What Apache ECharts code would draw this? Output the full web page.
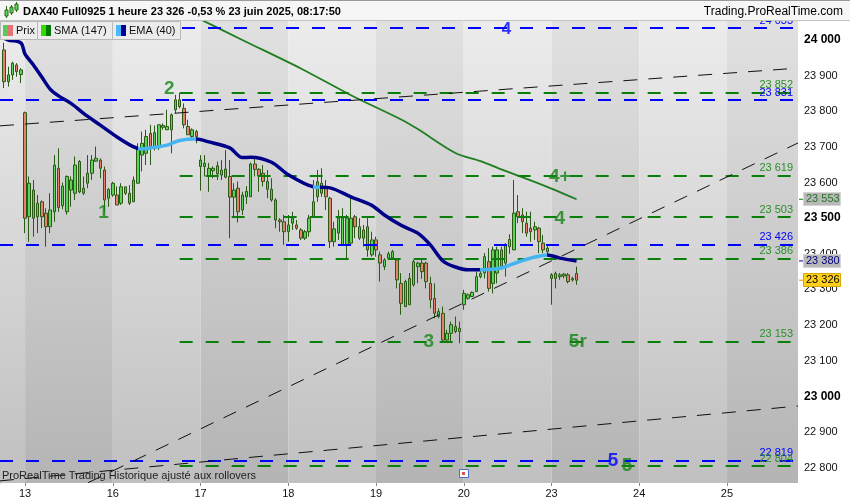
<!DOCTYPE html>
<html><head><meta charset="utf-8">
<script src="https://cdn.jsdelivr.net/npm/echarts@6/dist/echarts.min.js"></script>
<style>html,body{margin:0;padding:0;background:#fff}#c{width:850px;height:500px}</style>
</head><body><div id="c"></div>
<script>
const FONT = "'Liberation Sans', Arial, sans-serif";

// ---------- DATA ----------
const days = ['12','13','16','17','18','19','20','23','24','25'];
const hoursPerDay = 21;      // hourly bars per session
const firstHour = 16;        // first slot shown (12 June, 16h)
const slotCount = 192;       // slots on the axis (incl. future)

// hourly bars [open, close, low, high], from 12 June 16h
const ohlc = [
 ['-','-','-','-'],
 [23972,23883,23865,23992],[23883,23902,23869,23925],[23902,23935,23888,23939],[23930,23911,23897,23935],[23903,23916,23879,23921],
 [23796,23500,23458,23799],[23504,23598,23434,23617],[23579,23500,23448,23607],[23504,23542,23458,23565],[23546,23504,23472,23550],
 [23514,23476,23420,23528],[23476,23523,23458,23570],[23518,23649,23490,23677],[23640,23530,23518,23696],[23535,23590,23525,23600],
 [23518,23617,23510,23620],[23579,23607,23532,23617],[23570,23649,23551,23673],[23659,23574,23570,23663],[23570,23584,23565,23617],
 [23598,23626,23584,23677],[23626,23663,23607,23677],[23660,23668,23658,23701],[23663,23640,23612,23668],[23635,23551,23518,23645],
 [23556,23581,23532,23584],
 [23565,23598,23560,23602],[23565,23537,23537,23589],[23542,23588,23537,23598],[23588,23570,23565,23588],[23570,23542,23537,23593],
 [23546,23607,23546,23617],[23598,23696,23598,23710],[23677,23710,23631,23743],[23682,23729,23649,23748],[23738,23701,23649,23762],
 [23701,23740,23690,23760],[23701,23762,23691,23762],[23755,23760,23748,23766],[23748,23757,23748,23804],[23748,23790,23682,23794],
 [23804,23832,23794,23846],[23832,23813,23808,23851],[23808,23762,23752,23822],[23757,23734,23734,23776],[23729,23748,23724,23752],
 [23743,23729,23710,23748],
 [23645,23663,23577,23677],[23645,23654,23617,23677],[23617,23640,23574,23655],[23633,23640,23612,23645],[23647,23624,23607,23659],
 [23621,23635,23607,23663],[23638,23615,23612,23691],[23617,23559,23444,23663],[23559,23579,23500,23598],[23584,23518,23488,23603],
 [23523,23565,23509,23574],[23560,23575,23540,23590],[23560,23652,23560,23656],[23652,23637,23617,23672],[23637,23619,23574,23640],
 [23626,23603,23589,23649],[23603,23581,23556,23635],[23581,23551,23546,23612],[23551,23495,23472,23556],[23495,23490,23462,23500],
 [23490,23462,23425,23509],
 [23462,23481,23434,23509],[23486,23500,23467,23518],[23481,23472,23467,23495],[23467,23444,23439,23472],[23444,23462,23439,23467],
 [23462,23500,23448,23509],[23504,23546,23504,23607],[23560,23602,23546,23635],[23570,23598,23560,23640],[23584,23560,23523,23607],
 [23556,23434,23416,23560],[23434,23470,23420,23490],[23458,23500,23439,23523],[23425,23500,23425,23528],[23425,23500,23383,23509],
 [23430,23500,23425,23560],[23504,23476,23444,23509],[23476,23444,23439,23500],[23444,23467,23420,23481],[23476,23411,23392,23500],
 [23397,23439,23392,23462],
 [23439,23411,23392,23448],[23397,23374,23322,23406],[23364,23383,23355,23388],[23388,23400,23387,23406],[23388,23406,23383,23411],
 [23383,23327,23303,23388],[23317,23261,23229,23346],[23252,23322,23252,23327],[23257,23331,23257,23346],[23313,23378,23308,23383],
 [23364,23374,23317,23378],[23374,23350,23330,23385],[23374,23322,23303,23378],[23317,23271,23247,23336],[23275,23233,23219,23317],
 [23224,23238,23219,23247],[23233,23158,23154,23252],[23158,23177,23154,23187],[23177,23201,23154,23210],[23196,23182,23177,23224],
 [23182,23191,23149,23210],
 [23257,23289,23243,23299],[23275,23285,23271,23289],[23280,23292,23280,23294],[23294,23336,23294,23350],[23336,23345,23331,23355],
 [23346,23392,23331,23402],[23378,23303,23294,23416],[23317,23411,23289,23420],[23346,23411,23317,23420],[23411,23364,23355,23420],
 [23374,23425,23336,23430],[23420,23440,23400,23455],[23411,23514,23411,23607],[23518,23504,23486,23565],[23509,23490,23458,23528],
 [23486,23458,23448,23518],[23472,23462,23434,23518],[23467,23476,23439,23490],[23472,23434,23402,23476],[23430,23411,23402,23453],
 [23416,23406,23402,23425],
 [23331,23341,23257,23346],[23331,23345,23303,23350],[23336,23341,23327,23346],[23338,23343,23331,23346],[23341,23322,23317,23346],
 [23327,23331,23322,23336],[23345,23326,23313,23364]
];

// EMA(40) and SMA(147): [slot, value]
const emaPoints = [[0,24010],[2,24000],[5,23992],[6,23960],[8,23930],[10,23896],[12,23862],[14,23843],[17,23822],[20,23794],
 [24,23761],[28,23728],[32,23700],[34,23694],[36,23697],[40,23705],[43,23718],[47,23722],[50,23714],[55,23697],[58,23670],
 [60,23671],[65,23657],[69,23622],[75,23588],[79,23585],[84,23560],[89,23536],[92,23509],[96,23480],[100,23458],[103,23425],
 [106,23380],[109,23363],[112,23355],[116,23355],[120,23360],[124,23377],[128,23391],[131,23397],[134,23388],[138,23380]];
const emaAbove = [[33,47],[75,76.5],[115,131]];   // stretches where price is above the EMA
const smaPoints = [[45,24075],[58,24000],[72,23920],[84,23845],[96,23777],[100,23750],[109,23683],[115,23660],
 [120,23637],[127,23606],[132,23583],[138,23553]];

const blueLevels = [24033, 23831, 23426, 22819];
const greenLevels = [23852, 23619, 23503, 23386, 23153, 22804];
const greenLevelStart = 43;
const trendLines = [
 [[0,23759],[191,23921]],
 [[21.1,22758],[191,23711]],
 [[0,22763],[191,22973]]
];
const waveText  = ['1','2','3','4+','4','5r','4','5','5'];
const waveSlot  = [24.8, 40.5, 102.6, 134.0, 134.0, 138.3, 121.2, 146.7, 150.1];
const wavePrice = [23516, 23863, 23153, 23617, 23499, 23153, 24031, 22819, 22805];
const waveBlue  = [false,false,false,false,false,false,true,true,false];

const yTicks = [22800,22900,23000,23100,23200,23300,23400,23500,23600,23700,23800,23900,24000];
const yMin = 22757, yMax = 24056;
const lastPrice = 23326, lastSma = 23553, lastEma = 23380;

// ---------- BUILD ----------
const allCats = [];
for (const d of days) for (let h = 1; h <= hoursPerDay; h++) allCats.push(d + ' ' + h + 'h');
const categories = allCats.slice(firstHour - 1, firstHour - 1 + slotCount);
const isDayStart = (i, v) => /\s1h$/.test(v);
const fmt = v => { const s = String(Math.round(v)); return s.slice(0, -3) + ' ' + s.slice(-3); };

const GREEN = '#0a800a', BLUE = '#0000ff', GLABEL = '#2a8f2a';
const grad = (a, b) => ({type:'linear', x:0, y:0, x2:0, y2:1, colorStops:[{offset:0,color:a},{offset:1,color:b}]});

// day bands
const starts = [0];
categories.forEach((c, i) => { if (isDayStart(i, c)) starts.push(i); });
const bands = starts.map((s, k) => {
  const e = k + 1 < starts.length ? starts[k + 1] : slotCount - 1;
  const light = k % 2 === 0;
  return [{xAxis: s, itemStyle: {color: light ? grad('#ececec', '#c0c0c0') : grad('#e1e1e1', '#b4b4b4')}}, {xAxis: e}];
});

const levelLines = [];
blueLevels.forEach(v => levelLines.push([
  {coord:[0, v], lineStyle:{color:BLUE, width:2, type:[13,13]},
   label:{show:true, position:'insideEndTop', formatter: fmt(v), color:BLUE, fontSize:11, distance:2, fontFamily:FONT}},
  {coord:[190.3, v]}]));
greenLevels.forEach(v => levelLines.push([
  {coord:[greenLevelStart, v], lineStyle:{color:GREEN, width:2, type:[13,13]},
   label:{show:true, position:'insideEndTop', formatter: fmt(v), color:GLABEL, fontSize:11, distance:2, fontFamily:FONT}},
  {coord:[190.3, v]}]));
trendLines.forEach(t => levelLines.push([
  {coord:t[0], lineStyle:{color:'#111', width:1, type:[14,11]}, label:{show:false}},
  {coord:t[1]}]));

const waveData = waveText.map((t, i) => ({
  value: [waveSlot[i], wavePrice[i]],
  label: {formatter: t, color: waveBlue[i] ? BLUE : '#148414', fontSize: (t === '4' && waveBlue[i]) ? 17 : 19}
}));

const chart = echarts.init(document.getElementById('c'));
const option = {
  animation: false,
  textStyle: {fontFamily: FONT},
  grid: {left: 0, right: 52, top: 20, bottom: 17},
  xAxis: [
    {type:'category', data: categories, boundaryGap:false,
     axisLine:{show:false},
     axisTick:{show:true, interval:isDayStart, length:3, lineStyle:{color:'#888'}},
     axisLabel:{interval:isDayStart, formatter: v => v.split(' ')[0], color:'#111', fontSize:11, margin:5, fontFamily:FONT},
     splitLine:{show:false}},
    {type:'value', min:0, max:slotCount - 1, show:false}
  ],
  yAxis: {type:'value', position:'right', min:yMin, max:yMax,
    axisLine:{show:true, lineStyle:{color:'#999'}},
    axisTick:{show:true, customValues:yTicks, length:4, lineStyle:{color:'#999'}},
    axisLabel:{customValues:yTicks, margin:6, color:'#111', fontSize:11, fontFamily:FONT,
      formatter: v => v % 500 === 0 ? '{b|' + fmt(v) + '}' : fmt(v),
      rich:{b:{fontWeight:'bold', fontSize:12, color:'#000', fontFamily:FONT}}},
    splitLine:{show:false}},
  visualMap: [{type:'piecewise', show:false, seriesIndex:4, dimension:0,
    pieces: emaAbove.map(r => ({gte:r[0], lte:r[1], color:'#45b4f2'})),
    outOfRange:{color:'#000088'}}],
  series: [
    {type:'line', xAxisIndex:1, data:[], z:0, silent:true,
     markArea:{silent:true, data:bands}},
    {type:'candlestick', xAxisIndex:0, data:ohlc, barWidth:3, z:2,
     itemStyle:{color:'#5ad55a', color0:'#e8806e', borderColor:'#2b5a16', borderColor0:'#2b5a16', borderWidth:1}},
    {type:'line', xAxisIndex:1, data:[], z:3, silent:true,
     markLine:{silent:true, symbol:['none','none'], animation:false, data:levelLines}},
    {type:'line', xAxisIndex:1, data:smaPoints, z:4, showSymbol:false, smooth:0.3, silent:true,
     lineStyle:{color:'#1e7d1e', width:1.8}},
    {type:'line', xAxisIndex:1, data:emaPoints, z:5, showSymbol:false, smooth:0.3, silent:true,
     lineStyle:{width:3.5}},
    {type:'scatter', xAxisIndex:1, data:waveData, z:6, symbolSize:1, silent:true,
     itemStyle:{color:'transparent'},
     label:{show:true, position:'inside', fontWeight:'bold', fontFamily:FONT}}
  ]
};
chart.setOption(option);

// ---------- frame: header, legend, price tags ----------
const py = v => chart.convertToPixel({yAxisIndex:0}, v);
const tag = (v, fill, stroke, txt, tick) => [
  {type:'line', shape:{x1:799, y1:py(v), x2:803, y2:py(v)}, style:{stroke:tick, lineWidth:1}, z:100},
  {type:'rect', shape:{x:803.5, y:Math.round(py(v)) - 6.5, width:37, height:13}, style:{fill, stroke, lineWidth:1}, z:100},
  {type:'text', x:806, y:py(v), style:{text:fmt(v), fill:txt, font:'11px ' + FONT, verticalAlign:'middle'}, z:101}
];
const graphics = [
  {type:'rect', shape:{x:0, y:0, width:850, height:20}, style:{fill:'#f6f6f6'}, z:90},
  {type:'line', shape:{x1:0, y1:0.5, x2:850, y2:0.5}, style:{stroke:'#9a9a9a'}, z:91},
  {type:'line', shape:{x1:0, y1:20.5, x2:850, y2:20.5}, style:{stroke:'#c4c4c4'}, z:91},
  {type:'line', shape:{x1:6.5, y1:6, x2:6.5, y2:18}, style:{stroke:'#2b6a16'}, z:92},
  {type:'rect', shape:{x:5, y:10, width:3, height:6}, style:{fill:'#5ad55a', stroke:'#2b6a16'}, z:93},
  {type:'line', shape:{x1:11.5, y1:5, x2:11.5, y2:15}, style:{stroke:'#2b6a16'}, z:92},
  {type:'rect', shape:{x:10, y:7, width:3, height:6}, style:{fill:'#5ad55a', stroke:'#2b6a16'}, z:93},
  {type:'line', shape:{x1:16.5, y1:2, x2:16.5, y2:12}, style:{stroke:'#2b6a16'}, z:92},
  {type:'rect', shape:{x:15, y:4, width:3, height:6}, style:{fill:'#5ad55a', stroke:'#2b6a16'}, z:93},
  {type:'text', x:23, y:12, style:{text:'DAX40 Full0925 1 heure 23 326 -0,53 % 23 juin 2025, 08:17:50', fill:'#000', font:'bold 11px ' + FONT, verticalAlign:'middle'}, z:93},
  {type:'text', x:843, y:12, style:{text:'Trading.ProRealTime.com', fill:'#000', font:'12px ' + FONT, align:'right', verticalAlign:'middle'}, z:93},
  // legend
  {type:'rect', shape:{x:0.5, y:21.5, width:37, height:18}, style:{fill:'#ececec', stroke:'#b8b8b8'}, z:90},
  {type:'rect', shape:{x:37.5, y:21.5, width:75, height:18}, style:{fill:'#ececec', stroke:'#b8b8b8'}, z:90},
  {type:'rect', shape:{x:112.5, y:21.5, width:68, height:18}, style:{fill:'#ececec', stroke:'#b8b8b8'}, z:90},
  {type:'rect', shape:{x:3, y:25, width:5, height:11}, style:{fill:'#5cc85c'}, z:91},
  {type:'rect', shape:{x:8, y:25, width:5, height:11}, style:{fill:'#e57373'}, z:91},
  {type:'rect', shape:{x:41, y:25, width:5, height:11}, style:{fill:'#33dd00'}, z:91},
  {type:'rect', shape:{x:46, y:25, width:5, height:11}, style:{fill:'#007700'}, z:91},
  {type:'rect', shape:{x:116, y:25, width:5, height:11}, style:{fill:'#44bbff'}, z:91},
  {type:'rect', shape:{x:121, y:25, width:5, height:11}, style:{fill:'#000099'}, z:91},
  {type:'text', x:16, y:31, style:{text:'Prix', fill:'#111', font:'11px ' + FONT, verticalAlign:'middle'}, z:91},
  {type:'text', x:54, y:31, style:{text:'SMA (147)', fill:'#111', font:'11px ' + FONT, verticalAlign:'middle'}, z:91},
  {type:'text', x:129, y:31, style:{text:'EMA (40)', fill:'#111', font:'11px ' + FONT, verticalAlign:'middle'}, z:91},
  // footer note and calendar icon
  {type:'text', x:2, y:476, style:{text:'ProRealTime Trading Historique ajusté aux rollovers', fill:'#222', font:'11px ' + FONT, verticalAlign:'middle'}, z:80},
  {type:'rect', shape:{x:459.5, y:469.5, width:9, height:8}, style:{fill:'#ffffff', stroke:'#4a6fd0'}, z:80},
  {type:'rect', shape:{x:462, y:472, width:3, height:3}, style:{fill:'#e05050'}, z:81},
  ...tag(lastSma, '#b9b9b9', '#d6d6d6', '#267326', GREEN),
  ...tag(lastEma, '#b9b9b9', '#d6d6d6', '#00007f', '#000088'),
  ...tag(lastPrice, '#ffd11a', '#d9a800', '#000', '#c99a00')
];
chart.setOption({graphic: graphics});
</script></body></html>
